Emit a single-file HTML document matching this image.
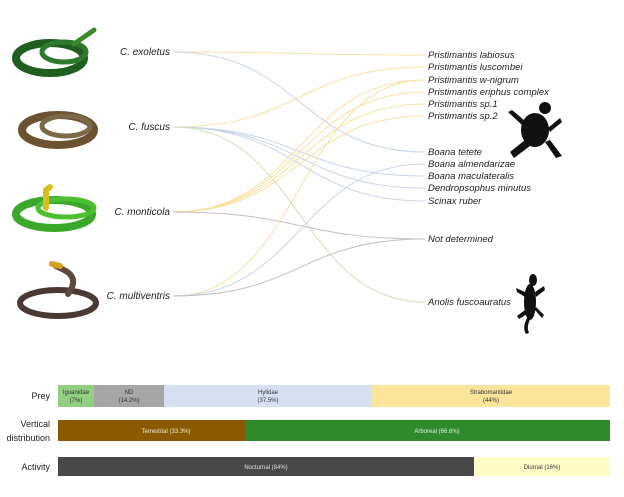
<!DOCTYPE html>
<html><head><meta charset="utf-8"><style>
body{margin:0;background:#fff;width:624px;height:492px;overflow:hidden;font-family:"Liberation Sans",sans-serif}
</style></head><body>
<svg width="624" height="492" xmlns="http://www.w3.org/2000/svg" font-family="Liberation Sans, sans-serif">
<!-- snakes -->
<g fill="none" stroke-linecap="round">
 <ellipse cx="50" cy="58" rx="34" ry="15" stroke="#1f5e1f" stroke-width="8"/>
 <ellipse cx="64" cy="52" rx="22" ry="10" stroke="#2d7a2d" stroke-width="5"/>
 <path d="M74 44 L94 30" stroke="#3a8a2a" stroke-width="5"/>
 <ellipse cx="58" cy="130" rx="36" ry="15" stroke="#6b5230" stroke-width="8"/>
 <ellipse cx="66" cy="126" rx="24" ry="10" stroke="#7a6a48" stroke-width="5"/>
 <ellipse cx="54" cy="214" rx="38" ry="14" stroke="#3aa82a" stroke-width="8"/>
 <ellipse cx="66" cy="208" rx="28" ry="9" stroke="#4cc030" stroke-width="5"/>
 <path d="M46 208 L46 190 L50 187" stroke="#d8c020" stroke-width="6"/>
 <ellipse cx="58" cy="303" rx="38" ry="13" stroke="#4a3a36" stroke-width="6"/>
 <path d="M68 294 Q80 278 64 270 L56 266" stroke="#5a4a40" stroke-width="6"/>
 <path d="M52 264 L60 266" stroke="#d8a020" stroke-width="6"/>
</g>
<!-- links -->
<g fill="none" stroke-width="1">
 <path d="M173 52 C300 52 300 55 425 55" stroke="#f7e0a0"/>
 <path d="M173 52 C300 52 300 152 425 152" stroke="#c8d4e8"/>
 <path d="M173 127 C300 127 300 67 425 67" stroke="#f7e0a0"/>
 <path d="M173 127 C300 127 300 176 425 176" stroke="#c8d4e8"/>
 <path d="M173 127 C300 127 300 188 425 188" stroke="#c8d4e8"/>
 <path d="M173 127 C300 127 300 201 425 201" stroke="#c8d4e8"/>
 <path d="M173 127 C300 127 300 302 425 302" stroke="#cfe0b8"/>
 <path d="M173 212 C300 212 300 80 425 80" stroke="#f7e0a0"/>
 <path d="M173 212 C300 212 300 92 425 92" stroke="#f7e0a0"/>
 <path d="M173 212 C300 212 300 104 425 104" stroke="#f7e0a0"/>
 <path d="M173 212 C300 212 300 116 425 116" stroke="#f7e0a0"/>
 <path d="M173 212 C300 212 300 239 425 239" stroke="#c0c0c0"/>
 <path d="M173 296 C300 296 300 80 425 80" stroke="#f7e0a0"/>
 <path d="M173 296 C300 296 300 164 425 164" stroke="#c8d4e8"/>
 <path d="M173 296 C300 296 300 239 425 239" stroke="#c0c0c0"/>
</g>
<g font-style="italic" font-size="9.5" fill="#222">
 <text x="170" y="55" text-anchor="end" font-size="10">C. exoletus</text>
 <text x="170" y="130" text-anchor="end" font-size="10">C. fuscus</text>
 <text x="170" y="215" text-anchor="end" font-size="10">C. monticola</text>
 <text x="170" y="299" text-anchor="end" font-size="10">C. multiventris</text>
 <text x="428" y="58">Pristimantis labiosus</text>
 <text x="428" y="70">Pristimantis luscombei</text>
 <text x="428" y="83">Pristimantis w-nigrum</text>
 <text x="428" y="95">Pristimantis eriphus complex</text>
 <text x="428" y="107">Pristimantis sp.1</text>
 <text x="428" y="119">Pristimantis sp.2</text>
 <text x="428" y="155">Boana tetete</text>
 <text x="428" y="167">Boana almendarizae</text>
 <text x="428" y="179">Boana maculateralis</text>
 <text x="428" y="191">Dendropsophus minutus</text>
 <text x="428" y="204">Scinax ruber</text>
 <text x="428" y="242">Not determined</text>
 <text x="428" y="305">Anolis fuscoauratus</text>
</g>
<!-- frog -->
<g fill="#111">
 <ellipse cx="535" cy="130" rx="14" ry="17"/>
 <circle cx="545" cy="108" r="6"/>
 <path d="M522 125 L508 112 L512 110 L524 120Z M548 128 L560 118 L562 122 L550 132Z M525 140 L510 152 L514 158 L530 146Z M545 142 L556 158 L562 156 L550 140Z"/>
</g>
<!-- lizard -->
<g fill="#111">
 <ellipse cx="530" cy="302" rx="6" ry="18"/>
 <ellipse cx="533" cy="280" rx="4" ry="6"/>
 <path d="M527 318 Q522 328 526 334 L529 333 Q526 326 531 318Z M525 292 L516 288 L517 292 L525 297Z M535 292 L544 286 L545 290 L536 297Z M525 310 L517 316 L519 319 L527 314Z M535 310 L542 318 L544 315 L536 307Z"/>
</g>
<!-- bars -->
<g font-size="9" fill="#222">
 <text x="50" y="399" text-anchor="end">Prey</text>
 <text x="50" y="427" text-anchor="end">Vertical</text>
 <text x="50" y="441" text-anchor="end">distribution</text>
 <text x="50" y="470" text-anchor="end">Activity</text>
</g>
<rect x="58" y="385" width="36" height="22" fill="#90d080"/>
<rect x="94" y="385" width="70" height="22" fill="#a6a6a6"/>
<rect x="164" y="385" width="208" height="22" fill="#d6e0f0"/>
<rect x="372" y="385" width="238" height="22" fill="#fde59c"/>
<rect x="58" y="420" width="187" height="21" fill="#8b5a00"/>
<rect x="245" y="420" width="365" height="21" fill="#2e8a2a"/>
<rect x="58" y="457" width="416" height="19" fill="#484848"/>
<rect x="474" y="457" width="136" height="19" fill="#fffcc8"/>
<g font-size="6" text-anchor="middle">
 <text x="76" y="394" fill="#333">Iguanidae</text><text x="76" y="402" fill="#333">(7%)</text>
 <text x="129" y="394" fill="#333">ND</text><text x="129" y="402" fill="#333">(14.2%)</text>
 <text x="268" y="394" fill="#333">Hylidae</text><text x="268" y="402" fill="#333">(37.5%)</text>
 <text x="491" y="394" fill="#333">Strabomantidae</text><text x="491" y="402" fill="#333">(44%)</text>
 <text x="166" y="433" fill="#f0e8d8">Terrestrial (33.3%)</text>
 <text x="437" y="433" fill="#e0f0e0">Arboreal (66.6%)</text>
 <text x="266" y="469" fill="#e0e0e0">Nocturnal (84%)</text>
 <text x="542" y="469" fill="#333">Diurnal (16%)</text>
</g>
</svg>
</body></html>
